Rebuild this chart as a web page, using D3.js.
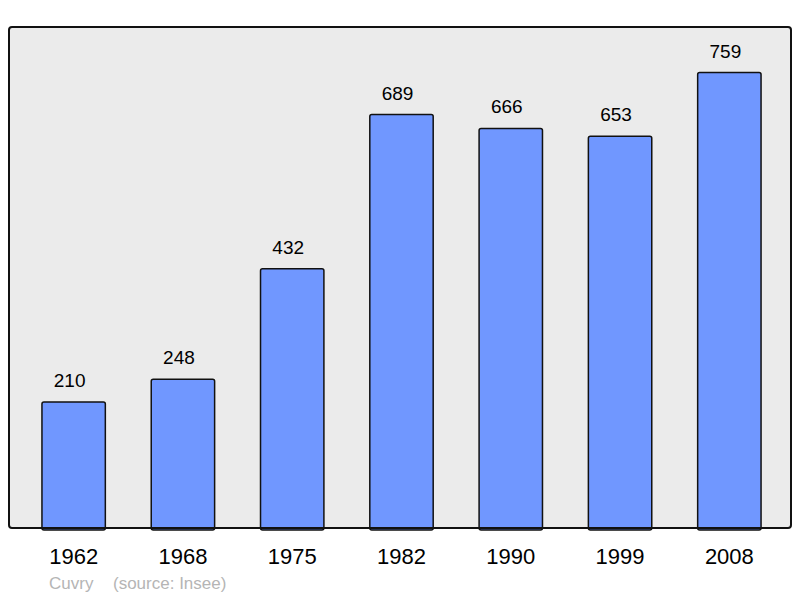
<!DOCTYPE html>
<html><head><meta charset="utf-8">
<script src="https://cdn.jsdelivr.net/npm/d3@7"></script>
<style>body{margin:0;background:#fff}svg{display:block}</style>
</head><body>
<script>
const years = ["1962","1968","1975","1982","1990","1999","2008"];
const population = [210,248,432,689,666,653,759];
const footerName = "Cuvry";
const footerSource = "(source: Insee)";

const W = 800, H = 598;
const frame = {x0: 9, y0: 27, x1: 791, y1: 528};
const svg = d3.select("body").append("svg").attr("width", W).attr("height", H);

svg.append("rect").attr("x", frame.x0).attr("y", frame.y0)
  .attr("width", frame.x1 - frame.x0).attr("height", frame.y1 - frame.y0)
  .attr("rx", 3).attr("fill", "#ebebeb").attr("stroke", "none");

const x = d3.scaleBand().domain(years).range([19, 784]).paddingInner(0.42).paddingOuter(0.21);
const y = d3.scaleLinear().domain([0, 835]).range([frame.y1, frame.y0]);

svg.selectAll("rect.bar").data(population).enter().append("rect")
  .attr("class", "bar")
  .attr("x", (d, i) => x(years[i]))
  .attr("y", d => y(d))
  .attr("width", x.bandwidth())
  .attr("height", d => frame.y1 - y(d) + 2)
  .attr("rx", 2)
  .attr("fill", "#7097ff").attr("stroke", "#111").attr("stroke-width", 1.5);

svg.selectAll("text.val").data(population).enter().append("text")
  .attr("class", "val")
  .attr("x", (d, i) => x(years[i]) + x.bandwidth() / 2 - 4)
  .attr("y", d => y(d) - 15)
  .attr("text-anchor", "middle")
  .attr("font-family", "Liberation Sans, Arial, sans-serif")
  .attr("font-size", 19).attr("fill", "#000")
  .text(d => d);

// frame border on top
svg.append("rect").attr("x", frame.x0).attr("y", frame.y0)
  .attr("width", frame.x1 - frame.x0).attr("height", frame.y1 - frame.y0)
  .attr("rx", 3).attr("fill", "none").attr("stroke", "#111").attr("stroke-width", 2);

const xAxis = d3.axisBottom(x).tickSize(0).tickPadding(0);
const gx = svg.append("g").attr("transform", `translate(0,${frame.y1})`).call(xAxis);
gx.select(".domain").remove();
gx.selectAll("text").attr("font-family", "Liberation Sans, Arial, sans-serif")
  .attr("font-size", 22).attr("fill", "#000").attr("dy", null).attr("y", 36);

const foot = svg.append("text").attr("y", 589)
  .attr("font-family", "Liberation Sans, Arial, sans-serif")
  .attr("font-size", 17).attr("fill", "#b5b5b5");
foot.append("tspan").attr("x", 49).text(footerName);
foot.append("tspan").attr("x", 113).text(footerSource);
</script>
</body></html>
